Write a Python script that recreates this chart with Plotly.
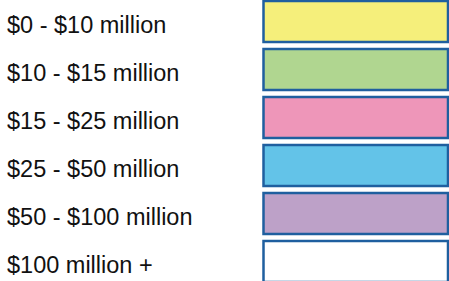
import plotly.graph_objects as go

categories = ["$0 - $10 million", "$10 - $15 million", "$15 - $25 million",
              "$25 - $50 million", "$50 - $100 million", "$100 million +"]
values = [1, 1, 1, 1, 1, 1]
colors = ["#F5EF7B", "#B0D690", "#EE96B9", "#63C3E8", "#BDA1C8", "#FFFFFF"]

BOX_LEFT = 263.5
BOX_W = 184.5
fig = go.Figure()
fig.add_trace(go.Bar(
    y=categories, x=[v * BOX_W for v in values], base=BOX_LEFT, orientation="h",
    marker=dict(color=colors, line=dict(color="#1F5F9F", width=2.5)),
    width=0.855, hoverinfo="skip",
))
for c in categories:
    fig.add_annotation(x=5, y=c, text=c, showarrow=False, xanchor="left", yanchor="middle",
                       yshift=-3, font=dict(family="Liberation Sans, Arial", size=23.5, color="#111111"))
fig.update_layout(
    width=449, height=281, margin=dict(l=0, r=0, t=0, b=0),
    paper_bgcolor="white", plot_bgcolor="white", showlegend=False,
    xaxis=dict(range=[0, 449], visible=False, fixedrange=True),
    yaxis=dict(type="category", categoryorder="array", categoryarray=categories,
               range=[5.406, -0.448], visible=False, fixedrange=True),
)
fig.write_html("out.html", config={"displayModeBar": False},
               post_script="document.body.style.margin='0';document.body.style.overflow='hidden';")
